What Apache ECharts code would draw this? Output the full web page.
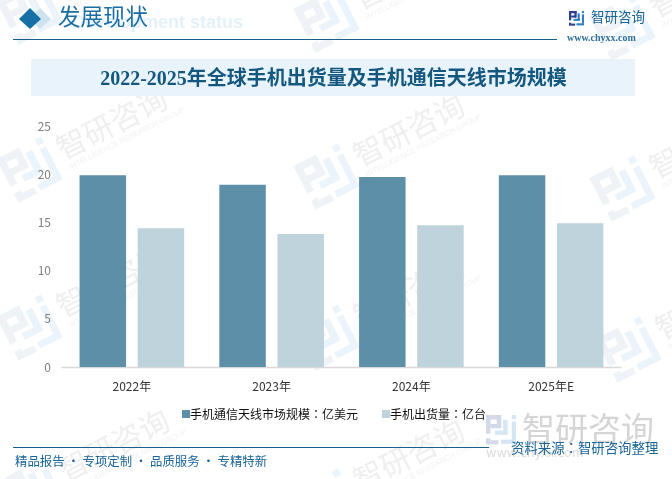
<!DOCTYPE html>
<html><head><meta charset="utf-8">
<style>html,body{margin:0;padding:0;background:#fff}#c{width:672px;height:479px}</style>
<script src="https://cdn.jsdelivr.net/npm/echarts@6/dist/echarts.min.js"></script>
</head><body><div id="c"></div>
<script>
const categories = ['2022年','2023年','2024年','2025年E'];
const antennaMarket = [19.9,18.9,19.7,19.9];
const phoneShipments = [14.4,13.8,14.7,14.9];
const seriesNames = ['手机通信天线市场规模：亿美元','手机出货量：亿台'];
const yTicks = {min:0,max:25,interval:5};

const sans = '"Noto Sans CJK SC","Noto Sans",sans-serif';
const sansTC = '"Noto Sans CJK TC","Noto Sans",sans-serif';
const serif = '"Liberation Serif","Noto Sans CJK SC",serif';

function logo(x,y,s,c1,c2,z){
  const r=(a,b,w,h,f)=>({type:'rect',z:z||0,silent:true,shape:{x:x+a*s,y:y+b*s,width:w*s,height:h*s},style:{fill:f}});
  return [
    r(0,0,.5,.15,c1),r(0,0,.15,.62,c1),r(.36,0,.15,.44,c1),r(.15,.3,.3,.14,c1),
    r(0,.78,.15,.2,c1),r(.15,.84,.26,.14,c1),
    r(.57,.16,.15,.46,c2),r(.3,.52,.42,.14,c2),r(.86,0,.14,.14,c2),r(.86,.22,.14,.62,c2),r(.5,.82,.5,.14,c2)
  ];
}
function watermark(x,y){
  const w=logo(-25,-25,50,'#eff2f7','#ebf4fa',0);
  w.push({type:'text',z:0,silent:true,x:34,y:-5,style:{text:'智研咨询',font:'30px '+sans,fill:'#efefef',letterSpacing:4,verticalAlign:'middle'}});
  w.push({type:'text',z:0,silent:true,x:36,y:16,style:{text:'INTELLIGENCE RESEARCH GROUP',font:'7.6px "Liberation Sans",sans-serif',fill:'#f1f1f1',verticalAlign:'middle'}});
  return {type:'group',x,y,rotation:27*Math.PI/180,silent:true,z:0,children:w};
}
const wmPos=[[30,12],[327,20],[623,28],[30,170],[327,177],[623,189],[30,328],[327,338],[629,350],[32,492],[327,502]];
const gfx=[];
wmPos.forEach(p=>gfx.push(watermark(p[0],p[1])));
gfx.push(
 {type:'text',x:72,y:23,z:1,silent:true,style:{text:'Development status',font:'bold 18px "Liberation Sans",sans-serif',fill:'#e4f1fb',verticalAlign:'middle'}},
 {type:'polygon',z:1,silent:true,shape:{points:[[29,19],[40,8],[51,19],[40,29]]},style:{fill:'#cfe2ef'}},
 {type:'polygon',z:2,silent:true,shape:{points:[[19,19],[30,8],[41,19],[30,29]]},style:{fill:'#1570a8'}},
 {type:'text',x:58,y:5,z:2,silent:true,style:{text:'发展现状',font:'22.5px '+sans,fill:'#1a6ea3'}},
 {type:'line',z:2,silent:true,shape:{x1:13,y1:39.5,x2:557,y2:39.5},style:{stroke:'#1a5f8a',lineWidth:1}},
 {type:'text',x:591,y:10,z:2,silent:true,style:{text:'智研咨询',font:'13.5px '+sans,fill:'#1a6496'}},
 {type:'text',x:567,y:33,z:2,silent:true,style:{text:'www.chyxx.com',font:'bold 10px '+serif,fill:'#2d6f9c',letterSpacing:1}},
 {type:'rect',z:1,silent:true,shape:{x:31,y:59,width:604,height:37},style:{fill:'#e8f3fb'}},
 {type:'text',x:333.5,y:80,z:2,silent:true,style:{text:'2022-2025年全球手机出货量及手机通信天线市场规模',font:'bold 20px '+serif,fill:'#14587f',align:'center',verticalAlign:'middle'}},
 {type:'line',z:2,silent:true,shape:{x1:13,y1:447.5,x2:489,y2:447.5},style:{stroke:'#1a5f8a',lineWidth:1}},
 {type:'text',x:15,y:455,z:2,silent:true,style:{text:'精品报告 · 专项定制 · 品质服务 · 专精特新',font:'12.4px '+sans,fill:'#1a6496'}},
 {type:'text',x:522,y:412,z:1,silent:true,style:{text:'智研咨询',font:'33px '+sans,fill:'#d5d5d5'}},
 {type:'text',x:486,y:446,z:1,silent:true,style:{text:'www.chyxx.com',font:'13px '+sans,fill:'#dcdcdc',letterSpacing:5.5}},
 {type:'text',x:511,y:441,z:2,silent:true,style:{text:'资料来源：智研咨询整理',font:'13.4px '+sansTC,fill:'#1a6496'}}
);
logo(569,11,15,'#2c3f8f','#2f7fc1',2).forEach(e=>gfx.push(e));
logo(486,415,30,'#d3d9e8','#d5e7f4',1).forEach(e=>gfx.push(e));

const chart=echarts.init(document.getElementById('c'),null,{renderer:'canvas'});
chart.setOption({
  animation:false,
  backgroundColor:'#fff',
  grid:{left:62,right:51,top:126,bottom:112,containLabel:false},
  legend:{left:177,top:403,itemWidth:8,itemHeight:8,itemGap:24,icon:'rect',
    textStyle:{color:'#111',fontSize:12,fontFamily:sansTC,padding:[0,0,0,-5]},
    data:seriesNames},
  xAxis:{type:'category',data:categories,
    axisLine:{lineStyle:{color:'#d9d9d9',width:1.3}},axisTick:{show:false},
    axisLabel:{color:'#333',fontSize:12,fontFamily:sans,margin:13}},
  yAxis:{type:'value',min:yTicks.min,max:yTicks.max,interval:yTicks.interval,
    axisLine:{show:false},axisTick:{show:false},splitLine:{show:false},
    axisLabel:{color:'#7f7f7f',fontSize:12,fontFamily:sans,margin:11}},
  series:[
    {name:seriesNames[0],type:'bar',data:antennaMarket,barWidth:46.5,barGap:'25%',itemStyle:{color:'#5d90a8'},z:3},
    {name:seriesNames[1],type:'bar',data:phoneShipments,barWidth:46.5,itemStyle:{color:'#bfd3dc'},z:3}
  ],
  graphic:{elements:gfx}
});
</script></body></html>
